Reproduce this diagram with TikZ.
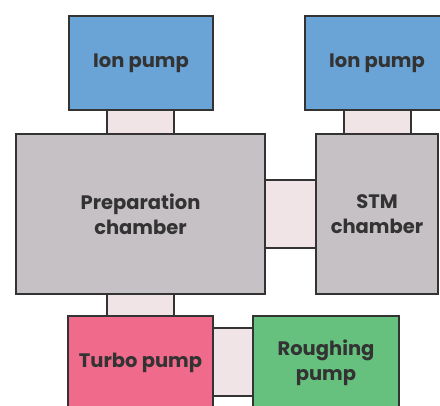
\documentclass[tikz,border=0pt]{standalone}
\usepackage{fontspec}
\setmainfont{Poppins}[BoldFont={Poppins Bold}]
\definecolor{ionblue}{HTML}{6AA3D5}
\definecolor{chgray}{HTML}{C6C1C4}
\definecolor{conpink}{HTML}{F1E4E7}
\definecolor{turbopink}{HTML}{EF6A8B}
\definecolor{roughgreen}{HTML}{66C07E}
\definecolor{edge}{HTML}{333333}
\definecolor{txt}{HTML}{333333}
\tikzset{
  box/.style={draw=edge, line width=2.4pt, inner sep=0pt, align=center,
    font=\fontsize{19.5}{25}\selectfont\bfseries, text=txt},
  conn/.style={draw=edge, fill=conpink, line width=2.4pt, inner sep=0pt}
}
\begin{document}
\begin{tikzpicture}[x=1pt,y=-1pt]
\clip (0,0) rectangle (440,406);
\fill[white] (0,0) rectangle (440,406);
% connectors (behind)
\node[conn, minimum width=67pt, minimum height=30pt] (c1) at (140.5,122) {};
\node[conn, minimum width=67pt, minimum height=30pt] (c2) at (377.5,122) {};
\node[conn, minimum width=56pt, minimum height=68pt] (c3) at (290.5,214) {};
\node[conn, minimum width=67pt, minimum height=28pt] (c4) at (140.5,305) {};
\node[conn, minimum width=46pt, minimum height=68pt] (c5) at (233,362) {};
% boxes
\node[box, fill=ionblue, minimum width=144pt, minimum height=94pt] (ion1) at (141,63) {Ion pump};
\node[box, fill=ionblue, minimum width=144pt, minimum height=94pt] (ion2) at (377,63) {Ion pump};
\node[box, fill=chgray, minimum width=249pt, minimum height=160pt] (prep) at (140.5,214) {Preparation\\chamber};
\node[box, fill=chgray, minimum width=122pt, minimum height=160pt] (stm) at (377,214) {STM\\chamber};
\node[box, fill=turbopink, minimum width=145pt, minimum height=94pt] (turbo) at (140.5,363) {Turbo pump};
\node[box, fill=roughgreen, minimum width=146pt, minimum height=94pt] (rough) at (326,363) {Roughing\\pump};
\end{tikzpicture}
\end{document}
